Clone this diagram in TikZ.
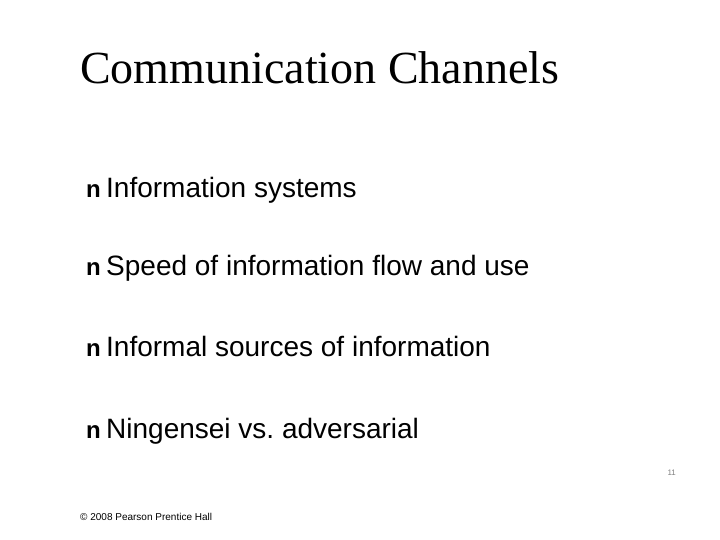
\documentclass[tikz,border=0pt]{standalone}
\usepackage{fontspec}
\setmainfont{Liberation Sans}
\newfontfamily\titlefont{Liberation Serif}
\usetikzlibrary{positioning}
\frenchspacing
\tikzset{bullettext/.style={anchor=base west,inner sep=0pt,font=\fontsize{28}{32}\selectfont},
  bulletmark/.style={anchor=base west,inner sep=0pt,font=\bfseries\fontsize{24}{28}\selectfont}}
\begin{document}
\begin{tikzpicture}[x=1pt,y=-1pt]
\useasboundingbox (0,0) rectangle (720,540);

\node[anchor=base west,inner sep=0pt,font=\titlefont\fontsize{46}{52}\selectfont] (title) at (80,84) {Communication Channels};

\node[bulletmark] (b1) at (86,197) {n};
\node[bullettext] (t1) at (106,197) {Information systems};
\node[bulletmark] (b2) at (86,275) {n};
\node[bullettext] (t2) at (106,275) {Speed of information flow and use};
\node[bulletmark] (b3) at (86,356) {n};
\node[bullettext] (t3) at (106,356) {Informal sources of information};
\node[bulletmark] (b4) at (86,438) {n};
\node[bullettext] (t4) at (106,438) {Ningensei vs. adversarial};

\node[anchor=base east,inner sep=0pt,font=\fontsize{8}{10}\selectfont,gray] (page) at (676,475) {11};
\node[anchor=base west,inner sep=0pt,font=\fontsize{10}{12}\selectfont] (footer) at (80,520) {© 2008 Pearson Prentice Hall};

\end{tikzpicture}
\end{document}
